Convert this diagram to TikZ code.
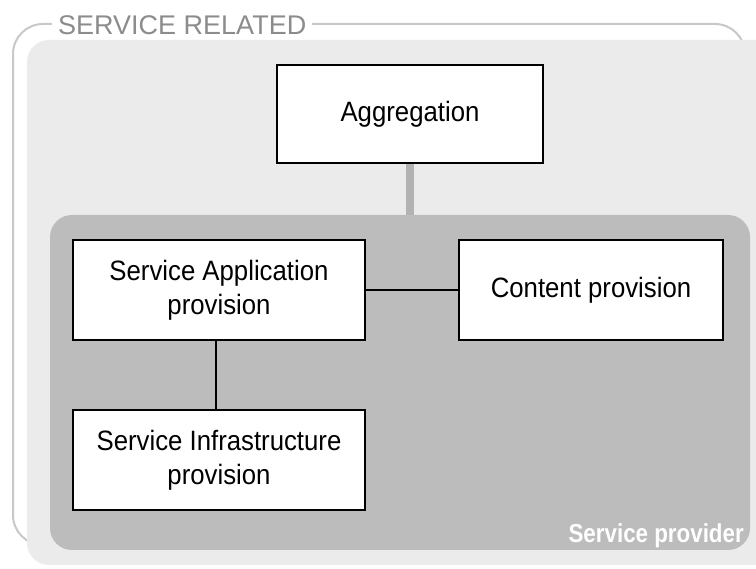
\documentclass[tikz,border=0pt]{standalone}
\usepackage{fontspec}
\setmainfont{Liberation Sans}[FakeStretch=0.92]
\newfontfamily\titlefont{Liberation Sans}
\newfontfamily\provfont{Liberation Sans}[FakeStretch=0.86]
\usepackage{tikz}
\usetikzlibrary{positioning}

\definecolor{framegray}{HTML}{C8C8C8}
\definecolor{labelgray}{HTML}{8C8C8C}
\definecolor{lightpanel}{HTML}{EBEBEB}
\definecolor{darkpanel}{HTML}{BCBCBC}

\begin{document}
\begin{tikzpicture}[x=1pt,y=-1pt,
    role/.style={draw=black,line width=1.3pt,fill=white,align=center,
      font=\fontsize{28}{34}\selectfont,inner sep=0pt},
    link/.style={draw=black,line width=1.2pt}]
      \clip (0,0) rectangle (756,569);
      % outer frame and its title
      \draw[framegray,line width=2pt,rounded corners=30] (13,24) rectangle (745,545);
      \node[anchor=west,fill=white,text=labelgray,inner sep=6pt,
        font=\titlefont\fontsize{27}{30}\selectfont] (title) at (52,25) {SERVICE RELATED};
      \fill[lightpanel,rounded corners=22] (27,40) rectangle (790,565);
      % aggregation sits above the provider panel
      \node[role,minimum width=266,minimum height=98] (agg) at (410,114) {Aggregation};
      \coordinate (pnl) at (410,225);
      \draw[darkpanel!95!black,line width=8pt] (agg.south) -- (pnl);
      \fill[darkpanel,rounded corners=22] (50,215) rectangle (750,550);
      \node[anchor=base east,text=white,inner sep=0pt,
        font=\provfont\bfseries\fontsize{26}{28}\selectfont] (prov) at (744,543) {Service provider};
      % provider roles
      \node[role,minimum width=292,minimum height=100] (app) at (219,290)
        {Service Application\\provision};
      \node[role,minimum width=264,minimum height=100] (cont) at (591,290)
        {Content provision};
      \node[role,minimum width=292,minimum height=100] (infra) at (219,460)
        {Service Infrastructure\\provision};
      \draw[link] (app.east) -- (cont.west);
      \draw[link] ([xshift=-3pt]app.south) -- ([xshift=-3pt]infra.north);
    \end{tikzpicture}
\end{document}
